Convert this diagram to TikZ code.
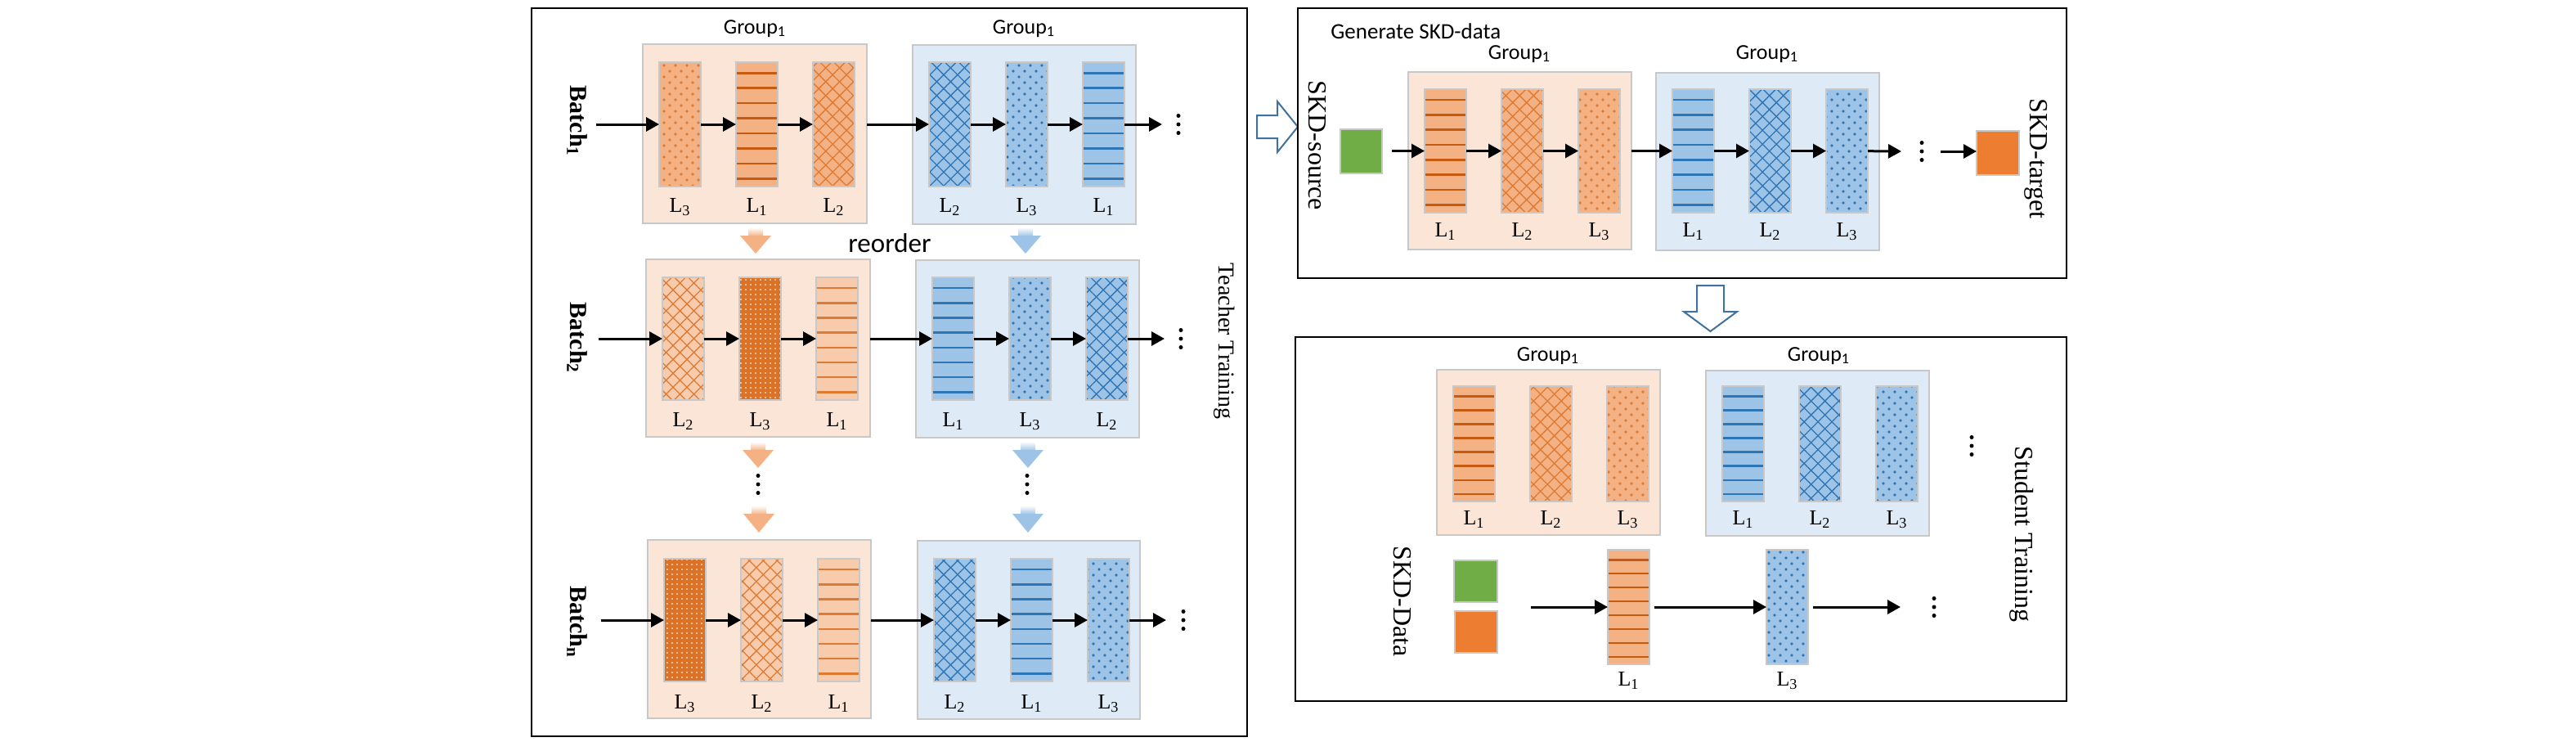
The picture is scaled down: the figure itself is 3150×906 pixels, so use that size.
\documentclass[tikz,border=0pt]{standalone}
\usepackage{fontspec}
\setmainfont{Liberation Serif}
\newfontfamily\calib{Carlito}
\usetikzlibrary{patterns.meta,arrows.meta,calc}
\definecolor{obg}{HTML}{FBE5D6}
\definecolor{bbg}{HTML}{DEEBF7}
\definecolor{gbd}{HTML}{C8C8C8}
\definecolor{ofill}{HTML}{F4B183}
\definecolor{ofillL}{HTML}{F8CBAD}
\definecolor{odark}{HTML}{C55A11}
\definecolor{omid}{HTML}{DE7A32}
\definecolor{oden}{HTML}{DC7226}
\definecolor{odot}{HTML}{FBD8BE}
\definecolor{bfill}{HTML}{9DC3E6}
\definecolor{bdark}{HTML}{2E75B6}
\definecolor{sgreen}{HTML}{70AD47}
\definecolor{sorange}{HTML}{ED7D31}
\definecolor{harrow}{HTML}{41719C}
\newcommand\lay[7]{%
  \node[lbar,#5,minimum height=#4] (#1) at (#2,#3) {};
  \node[lab] (#1l) at (#2+25.5,#7) {#6};}
\newcommand\fatdown[4]{%
  \shade[top color=white, bottom color=#4] (#1-9,#2) rectangle (#1+9,#2+11);
  \fill[#4] (#1-19,#2+10) -- (#1+19,#2+10) -- (#1,#3) -- cycle;}
\begin{document}
\begin{tikzpicture}[x=0.5pt,y=-0.5pt,
  frame/.style={draw=black,line width=1pt,inner sep=0pt,outer sep=0pt,anchor=north west},
  gbox/.style={draw=gbd,line width=0.8pt,inner sep=0pt,outer sep=0pt,anchor=north west},
  lbar/.style={draw=gbd,line width=0.6pt,minimum width=25.5pt,inner sep=0pt,outer sep=0pt,anchor=north west},
  sq/.style={draw=gbd,line width=0.6pt,inner sep=0pt,outer sep=0pt,anchor=north west},
  hl/.style 2 args={preaction={fill=#1},
    path picture={\path (path picture bounding box.north west) coordinate (pa)
                        (path picture bounding box.south west) coordinate (pb);
      \foreach \k in {0,...,7}{\pgfmathsetmacro\hlfrac{(\k+0.72)/8.25}
        \draw[#2,line width=1.3pt] ($(pa)!\hlfrac!(pb)$) -- ++(60,0);}}},
  cr/.style 2 args={preaction={fill=#1},
    preaction={pattern={Lines[angle=45,distance=6pt,line width=0.65pt]},pattern color=#2},
    pattern={Lines[angle=-45,distance=6pt,line width=0.65pt]},pattern color=#2},
  dt/.style 2 args={preaction={fill=#1},
    preaction={pattern={Dots[distance=7pt,radius=0.95pt]},pattern color=#2},
    pattern={Dots[distance=7pt,radius=0.95pt,xshift=3.5pt,yshift=3.5pt]},pattern color=#2},
  olines/.style={hl={ofill}{odark}},
  olinesL/.style={hl={ofillL}{omid}},
  blines/.style={hl={bfill}{bdark}},
  ocross/.style={cr={ofill}{omid}},
  ocrossL/.style={cr={ofillL}{omid}},
  bcross/.style={cr={bfill}{bdark}},
  odots/.style={dt={ofill}{omid}},
  bdots/.style={dt={bfill}{bdark}},
  odense/.style={preaction={fill=oden},pattern={Dots[distance=3pt,radius=0.6pt]},pattern color=odot},
  lab/.style={font=\fontsize{13}{15}\selectfont,inner sep=0pt},
  grp/.style={font=\calib\fontsize{13}{15}\selectfont,inner sep=0pt},
  batch/.style={font=\bfseries\fontsize{15}{17}\selectfont,rotate=-90,inner sep=0pt},
  side/.style={font=\fontsize{16}{18}\selectfont,rotate=-90,inner sep=0pt},
  vdot/.style={minimum width=4pt,minimum height=14pt,inner sep=0pt,
    path picture={\fill (path picture bounding box.center) circle (1.25pt)
      ++(0,-10.5) circle (1.25pt) ++(0,21) circle (1.25pt);}},
  arr/.style={-{Triangle[length=8pt,width=8.5pt]},line width=1.5pt},
  hollow/.style={draw=harrow,line width=1pt,fill=white}]
\useasboundingbox (0,0) rectangle (3150,906);

% ---------------- left frame: teacher training
\node[frame,minimum width=437.5pt,minimum height=445pt] (left) at (650,10) {};

% row 1
\node[gbox,fill=obg,minimum width=137pt,minimum height=109.5pt] (g1o) at (786,54) {};
\node[gbox,fill=bbg,minimum width=136.5pt,minimum height=109.5pt] (g1b) at (1116,55) {};
\node[grp] (g1ot) at (923,35) {Group\textsubscript{1}};
\node[grp] (g1bt) at (1252,35) {Group\textsubscript{1}};
\lay{r1o1}{806}{76}{76pt}{odots}{L\textsubscript{3}}{253}
\lay{r1o2}{900}{76}{76pt}{olines}{L\textsubscript{1}}{253}
\lay{r1o3}{994}{76}{76pt}{ocross}{L\textsubscript{2}}{253}
\lay{r1b1}{1136}{76}{76pt}{bcross}{L\textsubscript{2}}{253}
\lay{r1b2}{1230}{76}{76pt}{bdots}{L\textsubscript{3}}{253}
\lay{r1b3}{1324}{76}{76pt}{blines}{L\textsubscript{1}}{253}
\node[batch] (bt1) at (706,148) {Batch\textsubscript{1}};
\coordinate (s1) at (729,152);
\coordinate (e1) at (1421,152);
\node[vdot] (v1) at (1441,152) {};
\draw[arr] (s1) -- (s1 -| r1o1.west);
\draw[arr] (r1o1) -- (r1o2);
\draw[arr] (r1o2) -- (r1o3);
\draw[arr] (r1o3.east -| g1o.east) -- (r1b1);
\draw[arr] (r1b1) -- (r1b2);
\draw[arr] (r1b2) -- (r1b3);
\draw[arr] (r1b3) -- (e1);

\fatdown{924}{278}{310}{ofill}
\fatdown{1254}{278}{310}{bfill}
\node[font=\calib\fontsize{16.5}{18}\selectfont,inner sep=0pt] (reord) at (1088,297) {reorder};

% row 2
\node[gbox,fill=obg,minimum width=137pt,minimum height=108.5pt] (g2o) at (790,317) {};
\node[gbox,fill=bbg,minimum width=136.5pt,minimum height=108.5pt] (g2b) at (1120,318) {};
\lay{r2o1}{810}{339}{75pt}{ocrossL}{L\textsubscript{2}}{515}
\lay{r2o2}{904}{339}{75pt}{odense}{L\textsubscript{3}}{515}
\lay{r2o3}{998}{339}{75pt}{olinesL}{L\textsubscript{1}}{515}
\lay{r2b1}{1140}{339}{75pt}{blines}{L\textsubscript{1}}{515}
\lay{r2b2}{1234}{339}{75pt}{bdots}{L\textsubscript{3}}{515}
\lay{r2b3}{1328}{339}{75pt}{bcross}{L\textsubscript{2}}{515}
\node[batch] (bt2) at (706,413) {Batch\textsubscript{2}};
\coordinate (s2) at (732,414);
\coordinate (e2) at (1424,414);
\node[vdot] (v2) at (1444,414) {};
\draw[arr] (s2) -- (s2 -| r2o1.west);
\draw[arr] (r2o1) -- (r2o2);
\draw[arr] (r2o2) -- (r2o3);
\draw[arr] (r2o3.east -| g2o.east) -- (r2b1);
\draw[arr] (r2b1) -- (r2b2);
\draw[arr] (r2b2) -- (r2b3);
\draw[arr] (r2b3) -- (e2);
\node[side,font=\fontsize{14}{16}\selectfont] (tt) at (1497,417) {Teacher Training};

\fatdown{927}{540}{572}{ofill}
\fatdown{1257}{540}{572}{bfill}
\node[vdot] (vo) at (927,592) {};
\node[vdot] (vb) at (1256,592) {};
\fatdown{928}{618}{651}{ofill}
\fatdown{1257}{618}{651}{bfill}

% row 3
\node[gbox,fill=obg,minimum width=136.5pt,minimum height=109pt] (g3o) at (792,660) {};
\node[gbox,fill=bbg,minimum width=136pt,minimum height=109pt] (g3b) at (1122,661) {};
\lay{r3o1}{812}{683}{75pt}{odense}{L\textsubscript{3}}{860}
\lay{r3o2}{906}{683}{75pt}{ocrossL}{L\textsubscript{2}}{860}
\lay{r3o3}{1000}{683}{75pt}{olinesL}{L\textsubscript{1}}{860}
\lay{r3b1}{1142}{683}{75pt}{bcross}{L\textsubscript{2}}{860}
\lay{r3b2}{1236}{683}{75pt}{blines}{L\textsubscript{1}}{860}
\lay{r3b3}{1330}{683}{75pt}{bdots}{L\textsubscript{3}}{860}
\node[batch] (bt3) at (706,760) {Batch\textsubscript{n}};
\coordinate (s3) at (735,758);
\coordinate (e3) at (1426,758);
\node[vdot] (v3) at (1447,758) {};
\draw[arr] (s3) -- (s3 -| r3o1.west);
\draw[arr] (r3o1) -- (r3o2);
\draw[arr] (r3o2) -- (r3o3);
\draw[arr] (r3o3.east -| g3o.east) -- (r3b1);
\draw[arr] (r3b1) -- (r3b2);
\draw[arr] (r3b2) -- (r3b3);
\draw[arr] (r3b3) -- (e3);

% hollow arrow right
\draw[hollow] (1537,141) -- (1562,141) -- (1562,124) -- (1587,155) -- (1562,186) -- (1562,169) -- (1537,169) -- cycle;

% ---------------- top right frame: generate SKD data
\node[frame,minimum width=470pt,minimum height=165pt] (gen) at (1587,10) {};
\node[grp,anchor=west,font=\calib\fontsize{13.5}{15}\selectfont] (gent) at (1627,38) {Generate SKD-data};
\node[gbox,fill=obg,minimum width=136.5pt,minimum height=108.5pt] (gro) at (1722,88) {};
\node[gbox,fill=bbg,minimum width=136.5pt,minimum height=108.5pt] (grb) at (2025,89) {};
\node[grp] (grot) at (1858,66) {Group\textsubscript{1}};
\node[grp] (grbt) at (2161,66) {Group\textsubscript{1}};
\lay{go1}{1742}{109}{75.5pt}{olines}{L\textsubscript{1}}{283}
\lay{go2}{1836}{109}{75.5pt}{ocross}{L\textsubscript{2}}{283}
\lay{go3}{1930}{109}{75.5pt}{odots}{L\textsubscript{3}}{283}
\lay{gb1}{2045}{109}{75.5pt}{blines}{L\textsubscript{1}}{283}
\lay{gb2}{2139}{109}{75.5pt}{bcross}{L\textsubscript{2}}{283}
\lay{gb3}{2233}{109}{75.5pt}{bdots}{L\textsubscript{3}}{283}
\node[sq,fill=sgreen,minimum width=25.5pt,minimum height=27pt] (src) at (1639,158) {};
\node[sq,fill=sorange,minimum width=26pt,minimum height=27pt] (tgt) at (2417,160) {};
\node[side] (srct) at (1611,178) {SKD-source};
\node[side] (tgtt) at (2490,194) {SKD-target};
\coordinate (ge1) at (2325,185);
\coordinate (gs2) at (2373,185);
\node[vdot] (gv) at (2350,185) {};
\draw[arr,shorten <=6pt] (src.east |- go1.west) -- (go1);
\draw[arr] (go1) -- (go2);
\draw[arr] (go2) -- (go3);
\draw[arr] (go3.east -| gro.east) -- (gb1);
\draw[arr] (gb1) -- (gb2);
\draw[arr] (gb2) -- (gb3);
\draw[arr] (gb3) -- (ge1);
\draw[arr] (gs2) -- (gs2 -| tgt.west);

% hollow arrow down
\draw[hollow] (2075,349) -- (2108,349) -- (2108,381) -- (2124,381) -- (2091.5,405) -- (2059,381) -- (2075,381) -- cycle;

% ---------------- bottom right frame: student training
\node[frame,minimum width=471.5pt,minimum height=222.5pt] (stu) at (1584,412) {};
\node[gbox,fill=obg,minimum width=136.5pt,minimum height=101pt] (sgo) at (1757,452) {};
\node[gbox,fill=bbg,minimum width=136.5pt,minimum height=101pt] (sgb) at (2086,453) {};
\node[grp] (sgot) at (1893,435) {Group\textsubscript{1}};
\node[grp] (sgbt) at (2224,435) {Group\textsubscript{1}};
\lay{so1}{1777}{472}{70.5pt}{olines}{L\textsubscript{1}}{635}
\lay{so2}{1871}{472}{70.5pt}{ocross}{L\textsubscript{2}}{635}
\lay{so3}{1965}{472}{70.5pt}{odots}{L\textsubscript{3}}{635}
\lay{sb1}{2106}{472}{70.5pt}{blines}{L\textsubscript{1}}{635}
\lay{sb2}{2200}{472}{70.5pt}{bcross}{L\textsubscript{2}}{635}
\lay{sb3}{2294}{472}{70.5pt}{bdots}{L\textsubscript{3}}{635}
\node[vdot] (sv1) at (2411,545) {};
\node[side] (stt) at (2472,653) {Student Training};
\node[side] (sdt) at (1715,735) {SKD-Data};
\node[sq,fill=sgreen,minimum width=26.5pt,minimum height=25.5pt] (dg) at (1778,685) {};
\node[sq,fill=sorange,minimum width=26pt,minimum height=25.5pt] (do) at (1779,747) {};
\lay{sL1}{1966}{672}{70pt}{olines}{L\textsubscript{1}}{832}
\lay{sL3}{2160}{672}{70pt}{bdots}{L\textsubscript{3}}{832}
\coordinate (ss) at (1872,742);
\coordinate (se) at (2324,742);
\node[vdot] (sv2) at (2365,742) {};
\draw[arr] (ss) -- (ss -| sL1.west);
\draw[arr,shorten <=3pt] (sL1) -- (sL3);
\draw[arr,shorten <=3pt] (sL3) -- (se);
\end{tikzpicture}
\end{document}
